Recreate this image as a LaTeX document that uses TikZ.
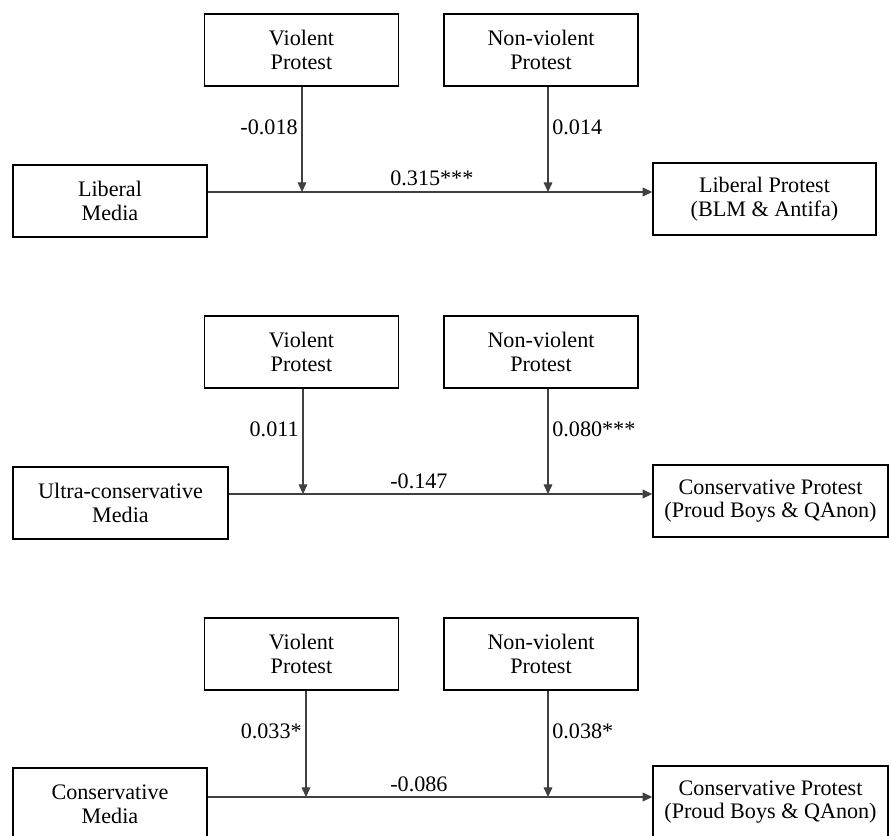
\documentclass[tikz,border=0pt]{standalone}
\usepackage{fontspec}
\setmainfont{Liberation Serif}
\usetikzlibrary{arrows.meta}

\tikzset{
    box/.style={draw, line width=0.8pt, minimum width=3.88cm, minimum height=1.44cm,
        align=center, inner sep=2pt, font=\fontsize{12.6}{13.5}\selectfont},
    link/.style={-{Triangle[length=5.5pt,width=5pt]}, line width=0.6pt, black!75},
    coef/.style={inner sep=0pt, font=\fontsize{12.6}{13.5}\selectfont}
}

\begin{document}
\begin{tikzpicture}

    \useasboundingbox (0,0) rectangle (17.78,-16.72);

    %% Liberal media model
    % Moderators
    \node[box] (vp1) at (6.03,-1.00) {Violent\\Protest};
    \node[box] (nvp1) at (10.82,-1.00) {Non-violent\\Protest};

    % Media and protest
    \node[box] (lm1) at (2.20,-4.02) {Liberal\\Media};
    \node[box, minimum width=4.46cm] (pr1) at (15.29,-3.98) {Liberal Protest\\(BLM \& Antifa)};

    % Main path
    \coordinate (j1a) at (6.04,-3.84);
    \coordinate (j1b) at (10.96,-3.84);
    \draw[link] (lm1.east |- j1a) -- (pr1.west |- j1a);
    \node[coef, anchor=base west] (b1) at (7.80,-3.72) {0.315***};

    % Moderating paths
    \draw[link] (vp1.south -| j1a) -- (j1a);
    \draw[link] (nvp1.south -| j1b) -- (j1b);
    \node[coef, anchor=base east] (a1) at (5.96,-2.69) {-0.018};
    \node[coef, anchor=base west] (c1) at (11.04,-2.69) {0.014};

    %% Ultra-conservative media model
    \begin{scope}[yshift=-6.04cm]
        % Moderators
        \node[box] (vp2) at (6.03,-1.00) {Violent\\Protest};
        \node[box] (nvp2) at (10.82,-1.00) {Non-violent\\Protest};

        % Media and protest
        \node[box, minimum width=4.30cm] (lm2) at (2.41,-4.02) {Ultra-conservative\\Media};
        \node[box, minimum width=4.70cm] (pr2) at (15.41,-3.98) {Conservative Protest\\(Proud Boys \& QAnon)};

        % Main path
        \coordinate (j2a) at (6.06,-3.84);
        \coordinate (j2b) at (10.96,-3.84);
        \draw[link] (lm2.east |- j2a) -- (pr2.west |- j2a);
        \node[coef, anchor=base west] (b2) at (7.80,-3.72) {-0.147};

        % Moderating paths
        \draw[link] (vp2.south -| j2a) -- (j2a);
        \draw[link] (nvp2.south -| j2b) -- (j2b);
        \node[coef, anchor=base east] (a2) at (5.98,-2.69) {0.011};
        \node[coef, anchor=base west] (c2) at (11.04,-2.69) {0.080***};
    \end{scope}

    %% Conservative media model
    \begin{scope}[yshift=-12.08cm]
        % Moderators
        \node[box] (vp3) at (6.03,-1.00) {Violent\\Protest};
        \node[box] (nvp3) at (10.82,-1.00) {Non-violent\\Protest};

        % Media and protest
        \node[box] (lm3) at (2.20,-4.00) {Conservative\\Media};
        \node[box, minimum width=4.70cm] (pr3) at (15.41,-3.96) {Conservative Protest\\(Proud Boys \& QAnon)};

        % Main path
        \coordinate (j3a) at (6.12,-3.86);
        \coordinate (j3b) at (10.96,-3.86);
        \draw[link] (lm3.east |- j3a) -- (pr3.west |- j3a);
        \node[coef, anchor=base west] (b3) at (7.80,-3.74) {-0.086};

        % Moderating paths
        \draw[link] (vp3.south -| j3a) -- (j3a);
        \draw[link] (nvp3.south -| j3b) -- (j3b);
        \node[coef, anchor=base east] (a3) at (6.04,-2.69) {0.033*};
        \node[coef, anchor=base west] (c3) at (11.04,-2.69) {0.038*};
    \end{scope}

\end{tikzpicture}
\end{document}
